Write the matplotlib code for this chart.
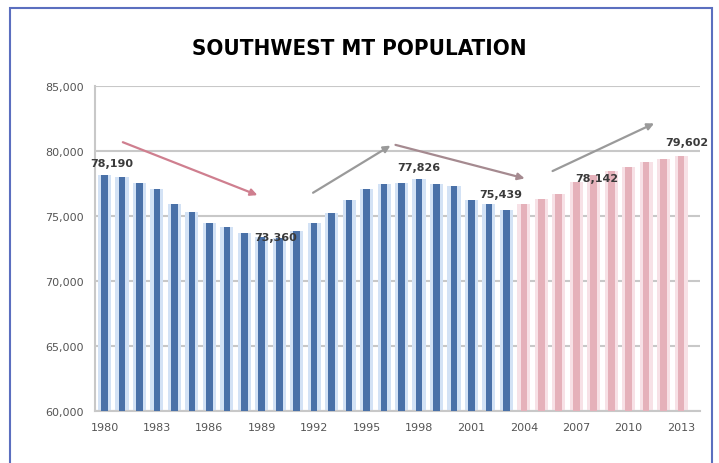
import matplotlib.pyplot as plt
from matplotlib.patches import Rectangle
from matplotlib.ticker import FuncFormatter

# population, historic (blue) and estimated (pink)
HIST_YEARS = list(range(1980, 2004))
HIST_POP = [78190, 78030, 77540, 77080, 75920, 75330, 74480, 74130, 73690, 73360,
            73300, 73870, 74440, 75280, 76230, 77080, 77460, 77520, 77826, 77460,
            77330, 76230, 75920, 75439]
PROJ_YEARS = list(range(2004, 2014))
PROJ_POP = [75920, 76310, 76690, 77620, 78142, 78460, 78770, 79150, 79380, 79602]

# callouts: (year, value, text)
CALLOUTS = [(1980.4, 79100, "78,190"), (1989.8, 73400, "73,360"),
            (1998.0, 78800, "77,826"), (2002.7, 76700, "75,439"),
            (2008.2, 77900, "78,142"), (2013.3, 80700, "79,602")]
# trend arrows: (start, end, colour)
TRENDS = [((1980.9, 80770), (1988.9, 76540), "#cf7f8f"),
          ((1991.8, 76690), (1996.5, 80540), "#9a9a9a"),
          ((1996.5, 80540), (2004.2, 77850), "#a58a90"),
          ((2005.5, 78380), (2011.6, 82230), "#9a9a9a")]
XTICKS = list(range(1980, 2014, 3))

fig = plt.figure(figsize=(7.19, 4.64), dpi=100)
fig.patches.append(Rectangle((0.014, -0.01), 0.976, 0.99, transform=fig.transFigure,
                             fill=False, edgecolor="#5b6fbf", linewidth=1.5))
ax = fig.add_axes([0.132, 0.112, 0.842, 0.70])

ax.bar(HIST_YEARS, HIST_POP, width=0.75, color="#d3e2f5", zorder=2)
ax.bar(HIST_YEARS, HIST_POP, width=0.38, color="#4a71a8", zorder=3)
ax.bar(PROJ_YEARS, PROJ_POP, width=0.75, color="#f7e1e6", zorder=2)
ax.bar(PROJ_YEARS, PROJ_POP, width=0.38, color="#e5b1ba", zorder=3)

for (x0, y0), (x1, y1), c in TRENDS:
    ax.annotate("", xy=(x1, y1), xytext=(x0, y0), zorder=5,
                arrowprops=dict(arrowstyle="-|>", color=c, lw=1.6, mutation_scale=10))
for x, y, t in CALLOUTS:
    ax.text(x, y, t, ha="center", va="center", fontsize=8, color="#3a3a3a",
            fontweight="bold", zorder=6)

ax.set_xlim(1979.45, 2014.1)
ax.set_ylim(60000, 85000)
ax.set_yticks(range(60000, 85001, 5000))
ax.yaxis.set_major_formatter(FuncFormatter(lambda v, p: f"{int(v):,}"))
ax.set_xticks(XTICKS)
ax.grid(axis="y", color="#c8c8c8", linewidth=1.5, zorder=1)
ax.tick_params(length=0, labelsize=8, labelcolor="#555555", pad=8)
for s in ["top", "right"]:
    ax.spines[s].set_visible(False)
for s in ["left", "bottom"]:
    ax.spines[s].set_color("#c8c8c8")
    ax.spines[s].set_linewidth(1.5)

fig.text(0.50, 0.895, "SOUTHWEST MT POPULATION", ha="center", va="center",
         fontsize=16, fontweight="bold", fontstretch="condensed",
         family=["Liberation Sans Narrow", "DejaVu Sans"])

fig.savefig("out.png", dpi=100)
